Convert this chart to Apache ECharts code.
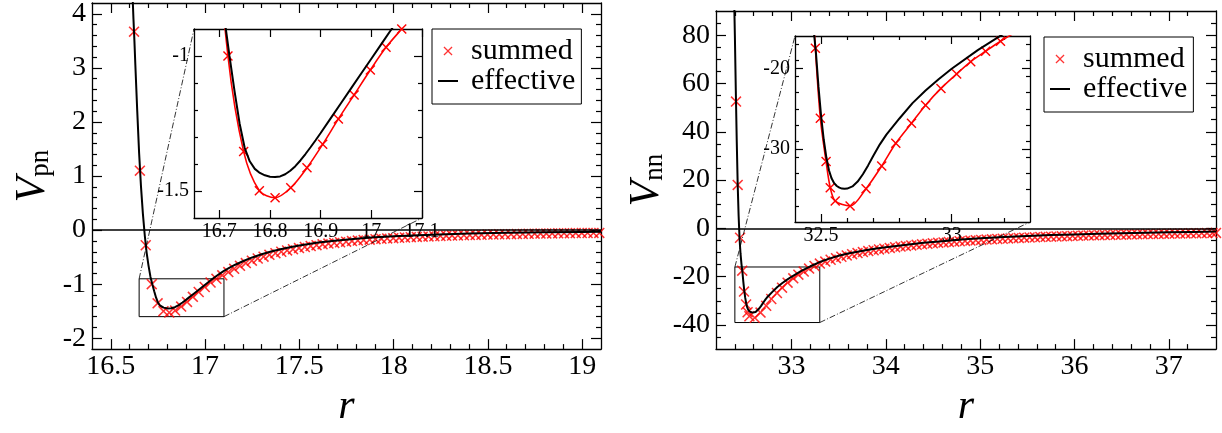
<!DOCTYPE html>
<html>
<head>
<meta charset="utf-8">
<script src="https://cdn.jsdelivr.net/npm/echarts@6/dist/echarts.min.js"></script>
<style>
  html, body { margin: 0; padding: 0; background: #fff; }
  #chart { width: 1222px; height: 433px; }
</style>
</head>
<body>
<div id="chart"></div>
<script>
// ---- pn panel ----
const rEffPn = [16.61, 16.615, 16.62, 16.625, 16.63, 16.64, 16.65, 16.66, 16.67, 16.68, 16.69, 16.70, 16.71, 16.72, 16.73, 16.74, 16.75, 16.76, 16.77, 16.78, 16.79, 16.80, 16.81, 16.82, 16.83, 16.84, 16.85, 16.86, 16.87, 16.88, 16.89, 16.90, 16.92, 16.94, 16.96, 16.98, 17.00, 17.02, 17.04, 17.06, 17.08, 17.10, 17.13, 17.16, 17.20, 17.25, 17.30, 17.35, 17.40, 17.45, 17.50, 17.60, 17.70, 17.80, 17.90, 18.00, 18.20, 18.40, 18.60, 18.80, 19.00, 19.10];
const vEffPn = [4.85, 4.35, 3.9, 3.5, 3.05, 2.2, 1.42, 0.8, 0.3, -0.1, -0.42, -0.66, -0.86, -1.0, -1.13, -1.25, -1.34, -1.39, -1.418, -1.433, -1.442, -1.447, -1.448, -1.446, -1.438, -1.425, -1.408, -1.387, -1.363, -1.338, -1.312, -1.285, -1.23, -1.175, -1.12, -1.065, -1.01, -0.955, -0.90, -0.848, -0.80, -0.755, -0.695, -0.64, -0.575, -0.505, -0.445, -0.395, -0.352, -0.315, -0.283, -0.23, -0.19, -0.158, -0.133, -0.113, -0.084, -0.064, -0.05, -0.04, -0.033, -0.03];

const rSumPn = [16.623, 16.654, 16.685, 16.717, 16.748, 16.779, 16.810, 16.841, 16.873, 16.904, 16.935, 16.966, 16.998, 17.029, 17.060, 17.091, 17.123, 17.154, 17.185, 17.216, 17.248, 17.279, 17.310, 17.341, 17.373, 17.404, 17.435, 17.466, 17.498, 17.529, 17.560, 17.591, 17.623, 17.654, 17.685, 17.716, 17.748, 17.779, 17.810, 17.841, 17.873, 17.904, 17.935, 17.966, 17.998, 18.029, 18.060, 18.091, 18.123, 18.154, 18.185, 18.216, 18.248, 18.279, 18.310, 18.341, 18.373, 18.404, 18.435, 18.466, 18.498, 18.529, 18.560, 18.591, 18.623, 18.654, 18.685, 18.716, 18.748, 18.779, 18.810, 18.841, 18.873, 18.904, 18.935, 18.966, 18.998, 19.029, 19.060, 19.091];
const vSumPn = [3.67, 1.10, -0.28, -1.00, -1.354, -1.499, -1.525, -1.488, -1.414, -1.327, -1.233, -1.144, -1.052, -0.968, -0.90, -0.835, -0.775, -0.715, -0.66, -0.61, -0.565, -0.525, -0.49, -0.457, -0.427, -0.40, -0.375, -0.352, -0.331, -0.312, -0.294, -0.278, -0.263, -0.249, -0.236, -0.224, -0.213, -0.203, -0.193, -0.184, -0.176, -0.168, -0.161, -0.154, -0.148, -0.142, -0.136, -0.131, -0.126, -0.121, -0.117, -0.113, -0.109, -0.105, -0.101, -0.098, -0.095, -0.092, -0.089, -0.086, -0.083, -0.081, -0.078, -0.076, -0.074, -0.072, -0.070, -0.068, -0.066, -0.064, -0.063, -0.061, -0.060, -0.058, -0.057, -0.055, -0.054, -0.053, -0.052, -0.051];

// ---- nn panel ----
const rEffNn = [32.385, 32.39, 32.40, 32.41, 32.42, 32.43, 32.44, 32.45, 32.46, 32.47, 32.48, 32.49, 32.50, 32.51, 32.52, 32.53, 32.54, 32.55, 32.56, 32.57, 32.58, 32.59, 32.60, 32.62, 32.64, 32.66, 32.68, 32.70, 32.725, 32.75, 32.80, 32.85, 32.90, 32.95, 33.0, 33.1, 33.2, 33.3, 33.4, 33.5, 33.6, 33.7, 33.8, 33.9, 34.0, 34.2, 34.4, 34.6, 34.8, 35.0, 35.25, 35.5, 35.75, 36.0, 36.25, 36.5, 36.75, 37.0, 37.25, 37.5];
const vEffNn = [110, 100, 80, 57, 36, 18, 5, -4.5, -10.5, -14.8, -18.0, -22.3, -25.9, -28.8, -31.0, -32.6, -33.6, -34.2, -34.55, -34.75, -34.87, -34.9, -34.87, -34.6, -34.0, -33.1, -32.0, -30.8, -29.4, -28.2, -26.2, -24.3, -22.75, -21.35, -20.05, -17.75, -15.7, -13.95, -12.55, -11.35, -10.45, -9.7, -9.0, -8.35, -7.8, -6.85, -6.0, -5.3, -4.65, -4.12, -3.6, -3.15, -2.8, -2.5, -2.22, -2.0, -1.8, -1.62, -1.46, -1.32];

const rSumNn = [32.412, 32.430, 32.455, 32.478, 32.497, 32.519, 32.535, 32.554, 32.611, 32.672, 32.732, 32.786, 32.846, 32.900, 32.959, 33.019, 33.073, 33.130, 33.187, 33.244, 33.301, 33.358, 33.415, 33.472, 33.529, 33.586, 33.643, 33.700, 33.757, 33.814, 33.871, 33.928, 33.985, 34.042, 34.099, 34.156, 34.213, 34.270, 34.327, 34.384, 34.441, 34.498, 34.555, 34.612, 34.669, 34.726, 34.783, 34.840, 34.897, 34.954, 35.011, 35.068, 35.125, 35.182, 35.239, 35.296, 35.353, 35.410, 35.467, 35.524, 35.581, 35.638, 35.695, 35.752, 35.809, 35.866, 35.923, 35.980, 36.037, 36.094, 36.151, 36.208, 36.265, 36.322, 36.379, 36.436, 36.493, 36.550, 36.607, 36.664, 36.721, 36.778, 36.835, 36.892, 36.949, 37.006, 37.063, 37.120, 37.177, 37.234, 37.291, 37.348, 37.405, 37.462, 37.5];
const vSumNn = [52.5, 18.0, -3.9, -17.52, -26.16, -31.53, -34.75, -36.4, -37.02, -34.88, -32.07, -29.26, -26.78, -24.55, -22.48, -20.70, -19.17, -17.89, -16.65, -15.55, -14.6, -13.75, -13.0, -12.35, -11.75, -11.2, -10.7, -10.25, -9.82, -9.43, -9.06, -8.72, -8.4, -8.1, -7.82, -7.55, -7.3, -7.06, -6.83, -6.61, -6.4, -6.2, -6.01, -5.83, -5.66, -5.5, -5.34, -5.19, -5.05, -4.91, -4.78, -4.65, -4.53, -4.41, -4.3, -4.19, -4.08, -3.98, -3.88, -3.79, -3.7, -3.61, -3.53, -3.45, -3.37, -3.29, -3.22, -3.15, -3.08, -3.01, -2.95, -2.89, -2.83, -2.77, -2.71, -2.66, -2.61, -2.56, -2.51, -2.46, -2.41, -2.37, -2.33, -2.29, -2.25, -2.21, -2.17, -2.13, -2.1, -2.06, -2.03, -2.0, -1.97, -1.94, -1.91];

// axis ranges and labelled ticks
const pnX = [16.4, 19.1], pnY = [-2.2, 4.2];
const pnXTicks = [16.5, 17, 17.5, 18, 18.5, 19];
const pnYTicks = [-2, -1, 0, 1, 2, 3, 4];
const pnInX = [16.65, 17.1], pnInY = [-1.6, -0.9];
const pnInXTicks = [16.7, 16.8, 16.9, 17, 17.1];
const pnInYTicks = [-1.5, -1];

const nnX = [32.2, 37.5], nnY = [-50, 90];
const nnXTicks = [33, 34, 35, 36, 37];
const nnYTicks = [-40, -20, 0, 20, 40, 60, 80];
const nnInX = [32.4, 33.3], nnInY = [-39, -16];
const nnInXTicks = [32.5, 33];
const nnInYTicks = [-30, -20];

const FONT = 'Liberation Serif';
const CROSS = 'path://M0,1L1,0L5,4L9,0L10,1L6,5L10,9L9,10L5,6L1,10L0,9L4,5Z';
const DASH = 'path://M0,0L20,0L20,2L0,2Z';

const zip = (xs, ys) => xs.map((x, i) => [x, ys[i]]);

// minor tick positions every d inside range, skipping the labelled ones
function minors(range, d, majors) {
  const out = [];
  const n = Math.round((range[1] - range[0]) / d);
  for (let i = 1; i < n; i++) {
    const v = +(range[0] + i * d).toFixed(4);
    if (!majors.some(m => Math.abs(m - v) < 1e-6)) out.push(v);
  }
  return out;
}

const xAxes = [], yAxes = [];

function axis(dim, g, pos, range, ticks, len, z, extra) {
  const a = {
    gridIndex: g, type: 'value', position: pos,
    min: range[0], max: range[1], zlevel: z,
    axisLine: { show: !!(extra && extra.line), onZero: false, lineStyle: { color: '#000', width: 1.3 } },
    axisTick: { show: true, inside: true, length: len, customValues: ticks, lineStyle: { color: '#000', width: 1.2 } },
    axisLabel: { show: false },
    splitLine: { show: false }
  };
  Object.assign(a, extra && extra.more);
  (dim === 'x' ? xAxes : yAxes).push(a);
  return (dim === 'x' ? xAxes : yAxes).length - 1;
}

function label(ticks, size, margin) {
  return {
    show: true, customValues: ticks, showMinLabel: true, showMaxLabel: true,
    fontFamily: FONT, fontSize: size, color: '#000', margin: margin
  };
}

// a framed box: ticks inward on all four sides
function frame(g, xr, yr, xT, xm, yT, ym, o) {
  const xi = axis('x', g, 'bottom', xr, xT, o.len, o.z,
    { line: true, more: Object.assign({ axisLabel: label(xT, o.font, o.xMargin) }, o.xMore) });
  axis('x', g, 'top', xr, xT, o.len, o.z, { line: true });
  if (xm) {
    axis('x', g, 'bottom', xr, xm, o.len / 2, o.z);
    axis('x', g, 'top', xr, xm, o.len / 2, o.z);
  }
  const yi = axis('y', g, 'left', yr, yT, o.len, o.z,
    { line: true, more: Object.assign({ axisLabel: label(yT, o.font, o.yMargin) }, o.yMore) });
  axis('y', g, 'right', yr, yT, o.len, o.z, { line: true });
  if (ym) {
    axis('y', g, 'left', yr, ym, o.len / 2, o.z);
    axis('y', g, 'right', yr, ym, o.len / 2, o.z);
  }
  return [xi, yi];
}

const rName = {
  name: 'r', nameLocation: 'middle', nameGap: 28,
  nameTextStyle: { fontFamily: FONT, fontSize: 42, fontStyle: 'italic', color: '#000' }
};
const vName = (sub, gap) => ({
  name: '{v|V}{s|' + sub + '}', nameLocation: 'middle', nameGap: gap, nameRotate: 90,
  nameTextStyle: {
    rich: {
      v: { fontFamily: FONT, fontSize: 42, fontStyle: 'italic', lineHeight: 42, verticalAlign: 'top', color: '#000' },
      s: { fontFamily: FONT, fontSize: 27, lineHeight: 27, verticalAlign: 'bottom', padding: [22, 0, 0, 0], color: '#000' }
    }
  }
});

const mainOpt = { len: 10, z: 0, font: 28, xMargin: 4, yMargin: 6 };
const inOpt = { len: 8, z: 1, font: 20, xMargin: 4, yMargin: 5 };

const aPn = frame(0, pnX, pnY, pnXTicks, minors(pnX, 0.1, pnXTicks), pnYTicks, minors(pnY, 0.2, pnYTicks),
  Object.assign({ xMore: rName, yMore: vName('pn', 38) }, mainOpt));
const aPnIn = frame(1, pnInX, pnInY, pnInXTicks, null, pnInYTicks, minors(pnInY, 0.1, pnInYTicks), inOpt);
const aNn = frame(2, nnX, nnY, nnXTicks, minors(nnX, 0.2, nnXTicks), nnYTicks, minors(nnY, 5, nnYTicks),
  Object.assign({ xMore: rName, yMore: vName('nn', 48) }, mainOpt));
const aNnIn = frame(3, nnInX, nnInY, nnInXTicks, minors(nnInX, 0.1, nnInXTicks), nnInYTicks, minors(nnInY, 2, nnInYTicks), inOpt);

function zeroAndBox(inX, inY) {
  return {
    markLine: {
      silent: true, symbol: 'none', label: { show: false },
      lineStyle: { color: '#000', width: 1.5, type: 'solid' },
      data: [{ yAxis: 0 }]
    },
    markArea: {
      silent: true,
      itemStyle: { color: 'rgba(0,0,0,0)', borderColor: '#000', borderWidth: 1 },
      data: [[{ coord: [inX[0], inY[1]] }, { coord: [inX[1], inY[0]] }]]
    }
  };
}

function effective(ax, data, z, extra) {
  return Object.assign({
    name: 'effective', type: 'line', xAxisIndex: ax[0], yAxisIndex: ax[1],
    data: data, symbol: 'none', showSymbol: false, smooth: false,
    lineStyle: { color: '#000', width: 2 }, itemStyle: { color: '#000' },
    zlevel: z, z: 3, clip: true
  }, extra);
}

function summedMain(ax, data) {
  return {
    name: 'summed', type: 'scatter', xAxisIndex: ax[0], yAxisIndex: ax[1],
    data: data, symbol: CROSS, symbolSize: 11, itemStyle: { color: '#ff0000' }, z: 2, clip: true
  };
}

function summedInset(ax, data) {
  return {
    name: 'summed inset', type: 'line', xAxisIndex: ax[0], yAxisIndex: ax[1],
    data: data, symbol: CROSS, symbolSize: 10, showSymbol: true, showAllSymbol: true,
    smooth: 0.3,
    lineStyle: { color: '#ff0000', width: 1.6 }, itemStyle: { color: '#ff0000' },
    zlevel: 1, z: 2, clip: true
  };
}

function legend(left, top) {
  return {
    data: [{ name: 'summed', icon: CROSS }, { name: 'effective', icon: DASH }],
    orient: 'vertical', left: left, top: top, zlevel: 0, z: 6,
    backgroundColor: '#fff', borderColor: '#000', borderWidth: 1, borderRadius: 0,
    padding: [7, 6, 8, 6], itemGap: 0, itemWidth: 20, itemHeight: 9,
    selectedMode: false,
    textStyle: { fontFamily: FONT, fontSize: 30, color: '#000', lineHeight: 30, padding: [0, 0, 0, 8] }
  };
}

const pnEff = zip(rEffPn, vEffPn), pnSum = zip(rSumPn, vSumPn);
const nnEff = zip(rEffNn, vEffNn), nnSum = zip(rSumNn, vSumNn);

const option = {
  animation: false,
  backgroundColor: '#fff',
  grid: [
    { left: 92, top: 3, width: 509, height: 377 },
    { left: 194, top: 29, width: 228, height: 189, show: true, backgroundColor: '#fff', borderWidth: 0, zlevel: 1 },
    { left: 716, top: 11, width: 500, height: 370 },
    { left: 795, top: 36, width: 235, height: 186, show: true, backgroundColor: '#fff', borderWidth: 0, zlevel: 1 }
  ],
  xAxis: xAxes,
  yAxis: yAxes,
  legend: [legend(432, 29), legend(1044, 37)],
  series: [
    summedMain(aPn, pnSum),
    effective(aPn, pnEff, 0, zeroAndBox(pnInX, pnInY)),
    summedMain(aNn, nnSum),
    effective(aNn, nnEff, 0, zeroAndBox(nnInX, nnInY)),
    summedInset(aPnIn, pnSum),
    effective(aPnIn, pnEff, 1, { name: 'effective inset' }),
    summedInset(aNnIn, nnSum),
    effective(aNnIn, nnEff, 1, { name: 'effective inset' })
  ]
};

const chart = echarts.init(document.getElementById('chart'));
chart.setOption(option);

// dash-dot connectors from the zoom box corners to the inset corners
function connectors(ax, axIn, inX, inY) {
  const px = (a, pt) => chart.convertToPixel({ xAxisIndex: a[0], yAxisIndex: a[1] }, pt);
  const corners = [[inX[0], inY[1]], [inX[1], inY[0]]];
  return corners.map(c => {
    const p1 = px(ax, c), p2 = px(axIn, c);
    return {
      type: 'line', silent: true, z: 5,
      shape: { x1: p1[0], y1: p1[1], x2: p2[0], y2: p2[1] },
      style: { stroke: '#000', lineWidth: 0.8, lineDash: [6, 2, 1, 2] }
    };
  });
}

chart.setOption({
  graphic: connectors(aPn, aPnIn, pnInX, pnInY).concat(connectors(aNn, aNnIn, nnInX, nnInY))
});
</script>
</body>
</html>
